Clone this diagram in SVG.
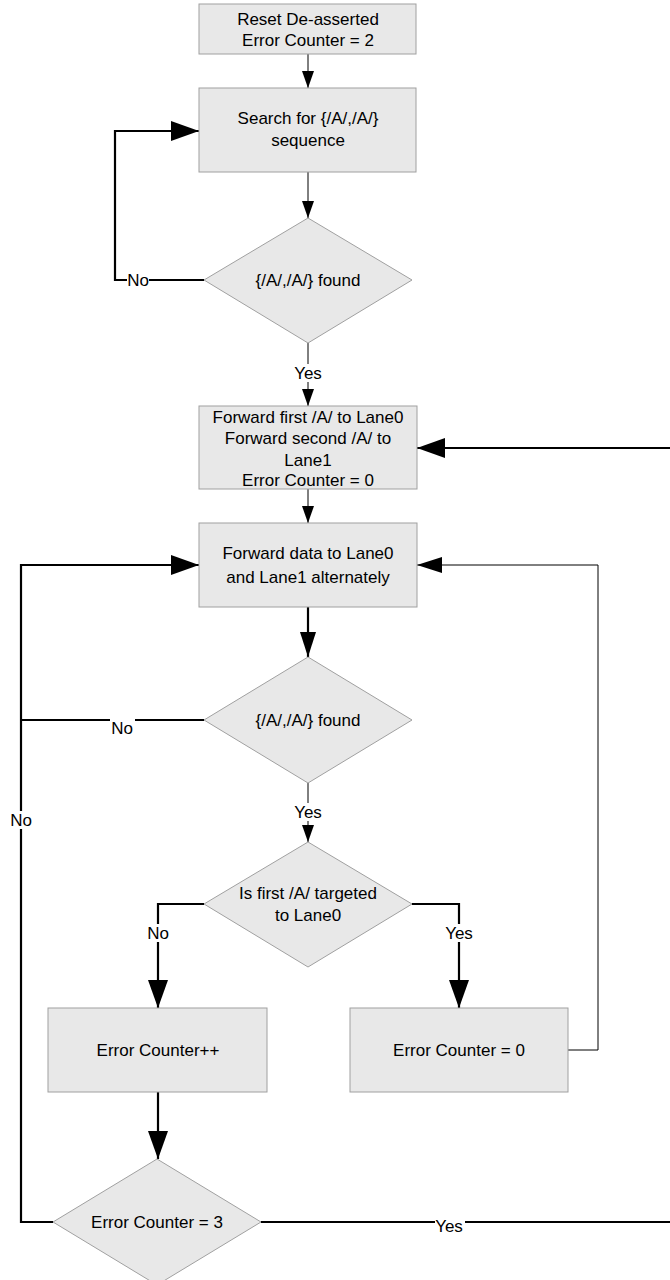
<svg xmlns="http://www.w3.org/2000/svg" width="670" height="1280" viewBox="0 0 670 1280">
<defs>
<style>
.box{fill:#e8e8e8;stroke:#a0a0a0;stroke-width:1}
.t{font-family:"Liberation Sans",Arial,sans-serif;font-size:17px;fill:#000;text-anchor:middle}
.thin{fill:none;stroke:#000;stroke-width:1}
.thick{fill:none;stroke:#000;stroke-width:2.2}
.bg{fill:#fff}
</style>
<marker id="aThin" markerUnits="userSpaceOnUse" viewBox="0 0 17 12" refX="17" refY="6" markerWidth="17" markerHeight="12" orient="auto"><path d="M0,0 L17,6 L0,12 Z" fill="#000"/></marker>
<marker id="aMed" markerUnits="userSpaceOnUse" viewBox="0 0 25 16" refX="25" refY="8" markerWidth="25" markerHeight="16" orient="auto"><path d="M0,0 L25,8 L0,16 Z" fill="#000"/></marker>
<marker id="aBig" markerUnits="userSpaceOnUse" viewBox="0 0 28 20" refX="28" refY="10" markerWidth="28" markerHeight="20" orient="auto"><path d="M0,0 L28,10 L0,20 Z" fill="#000"/></marker>
</defs>
<rect width="670" height="1280" fill="#fff"/>

<g id="connectors">
<path class="thin" d="M308,54 V88" marker-end="url(#aThin)"/>
<path class="thin" d="M308,172 V218" marker-end="url(#aThin)"/>
<path class="thick" d="M204,280 H115 V131 H199" marker-end="url(#aBig)"/>
<path class="thin" d="M308,343 V406" marker-end="url(#aThin)"/>
<path class="thin" d="M308,489 V523" marker-end="url(#aThin)"/>
<path class="thick" d="M308,607 V657" marker-end="url(#aMed)"/>
<path class="thick" d="M204,720 H21"/>
<path class="thin" d="M308,783 V842" marker-end="url(#aThin)"/>
<path class="thick" d="M204,904 H158 V1008" marker-end="url(#aBig)"/>
<path class="thick" d="M412,904 H459 V1008" marker-end="url(#aBig)"/>
<path class="thin" d="M568,1050 H598 V565 H417" marker-end="url(#aMed)"/>
<path class="thick" d="M158,1092 V1159" marker-end="url(#aBig)"/>
<path class="thick" d="M53,1222 H21 V565 H199" marker-end="url(#aBig)"/>
<path class="thick" d="M261,1222 H675 V448 H417" marker-end="url(#aBig)"/>
<rect class="bg" x="127" y="272" width="22" height="16"/>
<text class="t" x="138" y="286">No</text>
<rect class="bg" x="292" y="364" width="32" height="18"/>
<text class="t" x="308" y="379">Yes</text>
<rect class="bg" x="110" y="718" width="25" height="19"/>
<text class="t" x="122" y="734">No</text>
<rect class="bg" x="10" y="811" width="23" height="18"/>
<text class="t" x="21" y="826">No</text>
<rect class="bg" x="292" y="803" width="32" height="18"/>
<text class="t" x="308" y="818">Yes</text>
<rect class="bg" x="147" y="924" width="23" height="18"/>
<text class="t" x="158" y="939">No</text>
<rect class="bg" x="443" y="924" width="32" height="18"/>
<text class="t" x="459" y="939">Yes</text>
<rect class="bg" x="435" y="1220" width="30" height="15"/>
<text class="t" x="449" y="1232">Yes</text>
</g>

<g id="n1">
<rect class="box" x="199" y="4" width="217" height="50"/>
<text class="t" x="308" y="25">Reset De-asserted</text>
<text class="t" x="308" y="46">Error Counter = 2</text>
</g>
<g id="n2">
<rect class="box" x="199" y="88" width="217" height="84"/>
<text class="t" x="308" y="124">Search for {/A/,/A/}</text>
<text class="t" x="308" y="146">sequence</text>
</g>
<g id="d1">
<polygon class="box" points="308,218 412,280 308,343 204,280"/>
<text class="t" x="308" y="286">{/A/,/A/} found</text>
</g>
<g id="n3">
<rect class="box" x="199" y="406" width="218" height="83"/>
<text class="t" x="308" y="423">Forward first /A/ to Lane0</text>
<text class="t" x="308" y="444">Forward second /A/ to</text>
<text class="t" x="308" y="466">Lane1</text>
<text class="t" x="308" y="486">Error Counter = 0</text>
</g>
<g id="n4">
<rect class="box" x="199" y="523" width="218" height="84"/>
<text class="t" x="308" y="559">Forward data to Lane0</text>
<text class="t" x="308" y="583">and Lane1 alternately</text>
</g>
<g id="d2">
<polygon class="box" points="308,657 412,720 308,783 204,720"/>
<text class="t" x="308" y="726">{/A/,/A/} found</text>
</g>
<g id="d3">
<polygon class="box" points="308,842 412,904 308,967 204,904"/>
<text class="t" x="308" y="899">Is first /A/ targeted</text>
<text class="t" x="308" y="921">to Lane0</text>
</g>
<g id="n5">
<rect class="box" x="48" y="1008" width="219" height="84"/>
<text class="t" x="158" y="1056">Error Counter++</text>
</g>
<g id="n6">
<rect class="box" x="350" y="1008" width="218" height="84"/>
<text class="t" x="459" y="1056">Error Counter = 0</text>
</g>
<g id="d4">
<polygon class="box" points="157,1159 261,1222 157,1285 53,1222"/>
<text class="t" x="157" y="1228">Error Counter = 3</text>
</g>
</svg>
